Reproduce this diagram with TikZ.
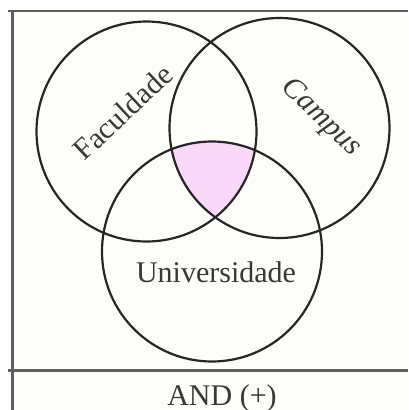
\documentclass[tikz,border=0pt]{standalone}
\usepackage{fontspec}
\setmainfont{Liberation Serif}
\definecolor{pinkfill}{RGB}{250,216,250}
\definecolor{framegray}{RGB}{95,95,95}
\definecolor{paper}{RGB}{253,253,249}
\tikzset{
  vennset/.style={draw=black!85, line width=2.2pt},
  frameline/.style={draw=framegray, line width=2.4pt},
  setlabel/.style={font=\fontsize{30}{33}\selectfont, text=black!78, inner sep=0pt},
}
\begin{document}
\begin{tikzpicture}[x=1pt,y=-1pt]
\useasboundingbox (0,0) rectangle (408,410);
\fill[white] (0,0) rectangle (408,410);
\fill[paper] (12.5,11) rectangle (408,410);
% sets
\coordinate (cF) at (146.5,131.5);
\coordinate (cC) at (279.5,128);
\coordinate (cU) at (212,251.5);
\begin{scope}
  \clip (cF) circle (110);
  \clip (cC) circle (110);
  \fill[pinkfill] (cU) circle (110);
\end{scope}
\draw[vennset] (cF) circle (110);
\draw[vennset] (cC) circle (110);
\draw[vennset] (cU) circle (110);
% labels
\node[setlabel, rotate=43] (lF) at (123,112) {Faculdade};
\node[setlabel, rotate=-44] (lC) at (321,118) {\itshape Campus};
\node[setlabel] (lU) at (216,272) {Universidade};
\node[setlabel] (lA) at (222,398) {AND (+)};
% frame
\coordinate (tl) at (8,11);
\coordinate (tr) at (408,11);
\coordinate (vl) at (12.5,9.8);
\coordinate (vb) at (12.5,410);
\coordinate (sl) at (8,370.5);
\coordinate (sr) at (408,370.5);
\draw[frameline] (tl) -- (tr);
\draw[frameline] (vl) -- (vb);
\draw[frameline] (sl) -- (sr);
\end{tikzpicture}
\end{document}
